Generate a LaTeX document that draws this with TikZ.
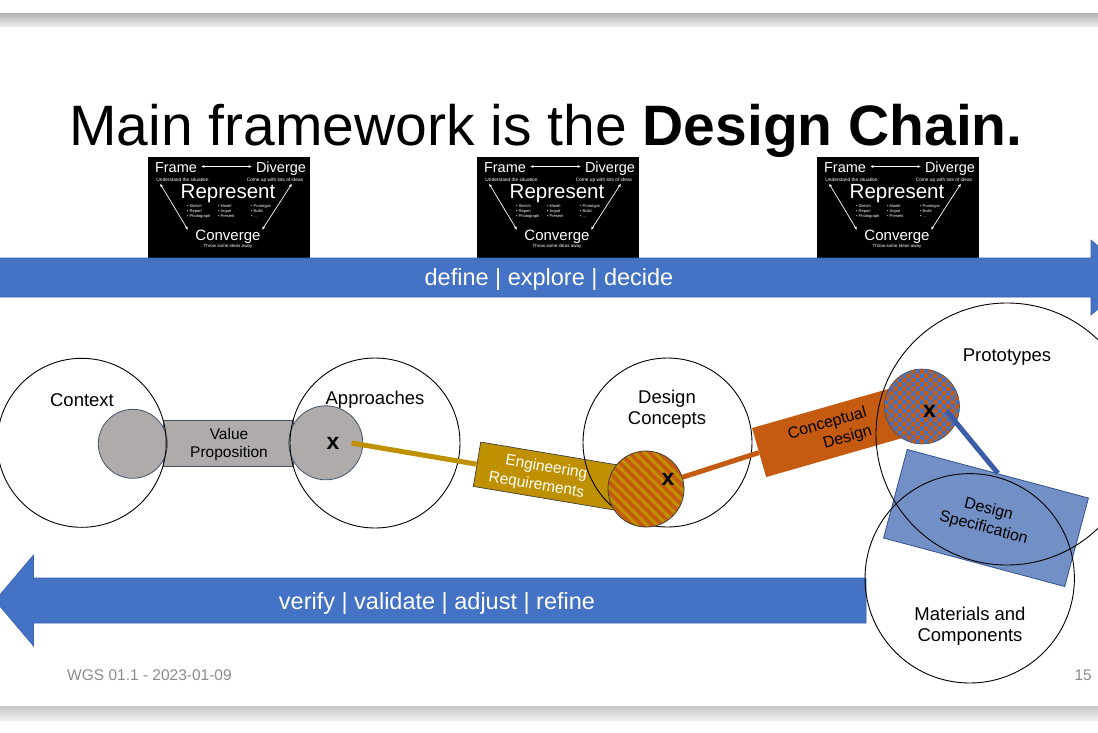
\documentclass[tikz,border=0pt]{standalone}
\usepackage{fontspec}
\setmainfont{Liberation Sans}
\usetikzlibrary{arrows.meta}

\definecolor{cblue}{HTML}{4472C4}
\definecolor{cblueedge}{HTML}{3A62AD}
\definecolor{cgold}{HTML}{BF9000}
\definecolor{corange}{HTML}{C55A11}
\definecolor{cgray}{HTML}{AFABAB}
\definecolor{cslate}{HTML}{44546A}
\definecolor{cspec}{HTML}{7390C6}
\definecolor{cspecline}{HTML}{2F528F}
\definecolor{clink}{HTML}{3B5DA8}
\definecolor{cfoot}{HTML}{8C8C8C}

\tikzset{
  % small "Frame / Diverge / Represent / Converge" card
  cardhead/.style={text=white, inner sep=0.5pt, anchor=base, font=\fontsize{14.5}{15}\selectfont},
  cardrep/.style={text=white, inner sep=0.5pt, anchor=base, font=\fontsize{20.5}{21}\selectfont},
  cardtiny/.style={text=white, inner sep=0pt, anchor=base, font=\fontsize{4.8}{5}\selectfont},
  cardbul/.style={text=white, inner sep=0pt, align=left, anchor=north west, font=\fontsize{4}{5}\selectfont},
  cardarrow/.style={white, line width=0.7pt, {Latex[length=3.4pt,width=2.8pt]}-{Latex[length=3.4pt,width=2.8pt]}},
  dccard/.pic={
    \fill[black] (0,0) rectangle (162,101);
    \node[cardhead] (-frame) at (28,15) {Frame};
    \node[cardhead] (-diverge) at (133,15) {Diverge};
    \coordinate (-ha) at (53,9.5);
    \coordinate (-hb) at (104,9.5);
    \draw[cardarrow] (-ha) -- (-hb);
    \node[cardtiny] (-und) at (34.5,24) {Understand the situation};
    \node[cardtiny] (-come) at (127,24) {Come up with lots of ideas};
    \node[cardrep] (-rep) at (80,41.5) {Represent};
    \node[cardbul] (-cola) at (39,47.5) {\textbullet\ Sketch\\\textbullet\ Report\\\textbullet\ Photograph};
    \node[cardbul] (-colb) at (70,47.5) {\textbullet\ Model\\\textbullet\ Argue\\\textbullet\ Present};
    \node[cardbul] (-colc) at (103,47.5) {\textbullet\ Prototype\\\textbullet\ Build\\\textbullet\ ...};
    \node[cardhead, font=\fontsize{15}{15}\selectfont] (-conv) at (80,83) {Converge};
    \node[cardtiny, font=\fontsize{4.5}{5}\selectfont] (-throw) at (80,90.5) {Throw some ideas away};
    \coordinate (-la) at (12,26.5);
    \coordinate (-lb) at (40,73);
    \coordinate (-ra) at (144,26.5);
    \coordinate (-rb) at (114,73);
    \draw[cardarrow] (-la) -- (-lb);
    \draw[cardarrow] (-ra) -- (-rb);
  },
  bigcirc/.style={circle, draw=black, line width=0.9pt, inner sep=0},
  circlabel/.style={align=center, inner sep=0pt, font=\fontsize{18.5}{21}\selectfont},
  graydot/.style={circle, fill=cgray, draw=cslate, line width=0.8pt, inner sep=0},
  xmark/.style={inner sep=1pt, font=\fontsize{23}{23}\bfseries\selectfont},
  boxtext/.style={inner sep=0pt, font=\fontsize{16}{19}\selectfont},
  bartext/.style={text=white, inner sep=0pt, font=\fontsize{23.5}{26}\selectfont},
  stripes/.style={path picture={
    \foreach \k in {-70,-60,...,70}
      \draw[corange, line width=3.6pt]
        ([shift={({\k-50},-50)}]path picture bounding box.center) -- ++(100,100);
  }},
  checker/.style={path picture={
    \foreach \i in {-10,-8,...,10}
      \foreach \j in {-10,-8,...,10} {
        \fill[corange] ([shift={({\i*4.4},{\j*4.4})}]path picture bounding box.center) circle (2.6pt);
        \fill[corange] ([shift={({(\i+1)*4.4},{(\j+1)*4.4})}]path picture bounding box.center) circle (2.6pt);
      }
  }},
}

\begin{document}
\begin{tikzpicture}[x=1pt,y=-1pt]
\useasboundingbox (0,0) rectangle (1098,732);
\fill[white] (0,0) rectangle (1098,732);

% slide frame bands
\shade[top color=gray!60, bottom color=gray!15] (0,13) rectangle (1098,26);
\shade[top color=gray!45, bottom color=gray!12] (0,706) rectangle (1098,720);

% title
\node[anchor=base, inner sep=0pt, font=\fontsize{57}{60}\selectfont] (title) at (546,145)
  {Main framework is the \textbf{Design Chain.}};

% three process cards
\pic (cardA) at (148,157) {dccard};
\pic (cardB) at (477,157) {dccard};
\pic (cardC) at (817,157) {dccard};

% forward arrow
\fill[cblue, draw=cblueedge, line width=0.6pt]
  (-2,258) -- (1091,258) -- (1091,240) -- (1135,277.5) -- (1091,315) -- (1091,297) -- (-2,297) -- cycle;
\node[bartext] (fwd) at (549,279.5) {define | explore | decide};

% backward arrow
\fill[cblue, draw=cblueedge, line width=0.6pt]
  (-5,600.5) -- (33.5,555) -- (33.5,578) -- (866,578) -- (866,623) -- (33.5,623) -- (33.5,646) -- cycle;
\node[bartext] (bwd) at (437,603) {verify | validate | adjust | refine};

% bars between the circles
\node[fill=cgray, draw=cslate, line width=0.8pt, minimum width=130pt, minimum height=46pt, inner sep=0] (vprect) at (228,443) {};
\node[fill=cgold, draw=darkgray, line width=0.7pt, rotate=-9.5, minimum width=150pt, minimum height=45pt, inner sep=0] (engreq) at (551,476.6) {};
\node[fill=corange, rotate=16, minimum width=160pt, minimum height=51pt, inner sep=0] (concept) at (836,430.5) {};
\node[fill=cspec, draw=cspecline, line width=0.8pt, rotate=-15, minimum width=187.6pt, minimum height=91.6pt, inner sep=0] (spec) at (986,518) {};

% grey end caps of the value proposition
\node[graydot, minimum size=69pt] (gl) at (132.8,443.8) {};
\node[graydot, minimum size=74pt] (gr) at (325.8,442.8) {};

% big circles
\node[bigcirc, minimum size=169pt] (ctx) at (81.7,442.8) {};
\node[bigcirc, minimum size=170pt] (app) at (375,443) {};
\node[bigcirc, minimum size=169pt] (dcon) at (667.5,442.5) {};
\node[bigcirc, minimum size=262pt] (proto) at (1007,434) {};
\node[bigcirc, minimum size=209.4pt] (mat) at (969.7,578.3) {};

% patterned circles
\node[circle, fill=cgold, draw=darkgray, line width=0.8pt, minimum size=76pt, inner sep=0, stripes] (sc) at (646,489) {};
\node[circle, fill=cblue, draw=cslate, line width=0.6pt, minimum size=75pt, inner sep=0, checker] (chk) at (922,406.5) {};

% circle labels
\node[circlabel] (ctxl) at (82,400) {Context};
\node[circlabel] (appl) at (375,400) {Approaches};
\node[circlabel] (dconl) at (667,409.5) {Design\\Concepts};
\node[circlabel] (protol) at (1007,357) {Prototypes};
\node[circlabel] (matl) at (970,626.5) {Materials and\\Components};

% bar texts
\node[boxtext, font=\fontsize{15.5}{18}\selectfont, align=center] (vp) at (229,444) {Value\\Proposition};
\node[boxtext, text=white, rotate=-9.5, align=right, font=\fontsize{15.5}{19}\selectfont] (engtxt) at (538,476) {Engineering\\Requirements};
\node[boxtext, rotate=16, align=right] (concepttxt) at (830,433) {Conceptual\\Design};
\node[boxtext, rotate=-15, align=center] (spectxt) at (986,519) {Design\\Specification};

% x marks
\node[xmark] (apx) at (333,443) {x};
\node[xmark] (scx) at (668,479) {x};
\node[xmark] (chkx) at (929.5,411) {x};

% chain links
\draw[cgold, line width=5pt] ([xshift=11pt]apx.east) -- (engreq.west);
\draw[corange, line width=5pt] (sc) -- (concept.west);
\draw[clink, line width=5pt] ([xshift=17pt]chkx.center) -- (spec.north);

% footer
\node[anchor=west, inner sep=0pt, text=cfoot, font=\fontsize{15.5}{16}\selectfont] (foot) at (67,675) {WGS 01.1 - 2023-01-09};
\node[anchor=east, inner sep=0pt, text=cfoot, font=\fontsize{15.5}{16}\selectfont] (pageno) at (1092,675) {15};
\end{tikzpicture}
\end{document}
